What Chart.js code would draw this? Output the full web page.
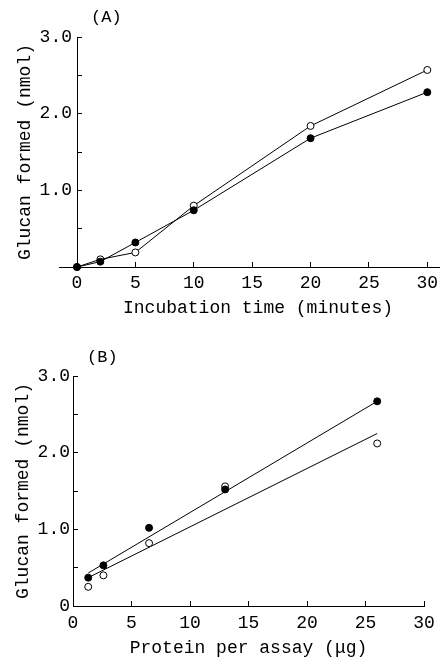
<!DOCTYPE html>
<html>
<head>
<meta charset="utf-8">
<script src="https://cdn.jsdelivr.net/npm/chart.js@4/dist/chart.umd.min.js"></script>
<style>
  html, body { margin: 0; padding: 0; background: #fff; }
  body { width: 444px; height: 657px; position: relative; overflow: hidden; }
  canvas { position: absolute; left: 0; display: block; }
  #cA { top: 0; }
  #cB { top: 330px; }
</style>
</head>
<body>
<canvas id="cA" width="444" height="330"></canvas>
<canvas id="cB" width="444" height="327"></canvas>
<script>
// ---------- Panel A data ----------
const timeMinutes = [0, 2, 5, 10, 20, 30];
const glucanOpenA = [0, 0.10, 0.19, 0.80, 1.84, 2.57];
const glucanFilledA = [0, 0.07, 0.32, 0.74, 1.68, 2.28];

// ---------- Panel B data ----------
const proteinUg = [1.3, 2.6, 6.5, 13, 26];
const glucanFilledB = [0.37, 0.53, 1.02, 1.52, 2.67];
const glucanOpenB = [0.25, 0.40, 0.82, 1.56, 2.12];
const fitX = [1.3, 26];
const fitFilledB = [0.43, 2.67];
const fitOpenB = [0.37, 2.25];

// ---------- Tick labels ----------
const xTickValues = [0, 5, 10, 15, 20, 25, 30];
const yTickValues = [0, 0.5, 1, 1.5, 2, 2.5, 3];
const yTickLabelsA = ['', '', '1.0', '', '2.0', '', '3.0'];
const yTickLabelsB = ['0', '', '1.0', '', '2.0', '', '3.0'];

const FONT = '"Liberation Mono", "DejaVu Sans Mono", monospace';
Chart.defaults.font.family = FONT;
Chart.defaults.color = '#000';

function pts(xs, ys) { return xs.map((x, i) => ({ x: x, y: ys[i] })); }

const panelDecor = {
  id: 'panelDecor',
  afterDraw(chart, args, opts) {
    const ctx = chart.ctx;
    ctx.save();
    ctx.fillStyle = '#000';
    ctx.font = '17px ' + FONT;
    ctx.textAlign = 'left';
    ctx.textBaseline = 'middle';
    ctx.fillText(opts.text, opts.x, opts.y);
    if (opts.extendLeft) {
      const y0 = Math.round(chart.scales.y.getPixelForValue(0) - 0.5) + 0.5;
      const l = chart.chartArea.left;
      ctx.strokeStyle = '#000';
      ctx.lineWidth = 1;
      ctx.beginPath();
      ctx.moveTo(l - opts.extendLeft, y0);
      ctx.lineTo(l, y0);
      ctx.stroke();
    }
    ctx.restore();
  }
};

function zeroPad(s) { s.paddingLeft = 0; s.paddingRight = 0; s.paddingTop = 0; s.paddingBottom = 0; }

function makeOptions(cfg) {
  return {
    responsive: false,
    animation: false,
    devicePixelRatio: 1,
    layout: { padding: { left: 0, right: cfg.padRight, top: cfg.padTop, bottom: 0 } },
    plugins: {
      legend: { display: false },
      tooltip: { enabled: false },
      panelDecor: { text: cfg.label, x: cfg.labelX, y: cfg.labelY, extendLeft: cfg.extendLeft }
    },
    scales: {
      x: {
        type: 'linear',
        position: 'bottom',
        min: 0,
        max: cfg.xMax,
        afterBuildTicks: s => { s.ticks = xTickValues.map(v => ({ value: v })); },
        afterFit: s => { s.height = cfg.xAxisHeight; zeroPad(s); },
        ticks: { font: { size: 18 }, padding: cfg.xTickPad, maxRotation: 0, autoSkip: false,
                 callback: v => String(v) },
        grid: { display: true, drawOnChartArea: false, drawTicks: true, tickLength: -5, color: '#000', lineWidth: 1 },
        border: { display: true, color: '#000', width: 1 },
        title: { display: true, text: cfg.xTitle, font: { size: 18, lineHeight: 1 },
                 padding: { top: 0, bottom: cfg.xTitlePadBottom } }
      },
      y: {
        type: 'linear',
        position: 'left',
        min: 0,
        max: 3,
        afterBuildTicks: s => { s.ticks = yTickValues.map(v => ({ value: v })); },
        afterFit: s => { s.width = cfg.yAxisWidth; zeroPad(s); },
        ticks: { font: { size: 18 }, padding: cfg.yTickPad, autoSkip: false,
                 callback: (v, i) => cfg.yLabels[i] },
        grid: { display: true, drawOnChartArea: false, drawTicks: true, tickLength: -5, color: '#000', lineWidth: 1 },
        border: { display: true, color: '#000', width: 1 },
        title: { display: true, text: 'Glucan formed (nmol)', font: { size: 18, lineHeight: 1.2 },
                 padding: { top: cfg.yTitlePadTop, bottom: 0 } }
      }
    }
  };
}

const pointOpen = { pointStyle: 'circle', pointRadius: 3.5, pointBorderWidth: 1,
                    pointBackgroundColor: '#fff', pointBorderColor: '#000', clip: false };
const pointFilled = { pointStyle: 'circle', pointRadius: 3.5, pointBorderWidth: 1,
                      pointBackgroundColor: '#000', pointBorderColor: '#000', clip: false };

new Chart(document.getElementById('cA'), {
  type: 'scatter',
  data: {
    datasets: [
      Object.assign({ label: 'filled', data: pts(timeMinutes, glucanFilledA), showLine: true,
        borderColor: '#000', borderWidth: 1, backgroundColor: '#000' }, pointFilled),
      Object.assign({ label: 'open', data: pts(timeMinutes, glucanOpenA), showLine: true,
        borderColor: '#000', borderWidth: 1, backgroundColor: '#fff' }, pointOpen)
    ]
  },
  options: makeOptions({
    padRight: 1, padTop: 37, xMax: 31, xAxisHeight: 63, yAxisWidth: 77,
    xTickPad: 10, yTickPad: 10, xTitlePadBottom: 13, yTitlePadTop: 14,
    xTitle: 'Incubation time (minutes)', yLabels: yTickLabelsA,
    label: '(A)', labelX: 91, labelY: 17, extendLeft: 18
  }),
  plugins: [panelDecor]
});

new Chart(document.getElementById('cB'), {
  type: 'scatter',
  data: {
    datasets: [
      Object.assign({ label: 'filled', data: pts(proteinUg, glucanFilledB), showLine: false,
        backgroundColor: '#000' }, pointFilled),
      Object.assign({ label: 'open', data: pts(proteinUg, glucanOpenB), showLine: false,
        backgroundColor: '#fff' }, pointOpen),
      { label: 'fit filled', data: pts(fitX, fitFilledB), showLine: true, pointRadius: 0,
        borderColor: '#000', borderWidth: 1 },
      { label: 'fit open', data: pts(fitX, fitOpenB), showLine: true, pointRadius: 0,
        borderColor: '#000', borderWidth: 1 }
    ]
  },
  options: makeOptions({
    padRight: 20, padTop: 46, xMax: 30, xAxisHeight: 51, yAxisWidth: 73,
    xTickPad: 11, yTickPad: 8, xTitlePadBottom: 0, yTitlePadTop: 12,
    xTitle: 'Protein per assay (μg)', yLabels: yTickLabelsB,
    label: '(B)', labelX: 87, labelY: 27, extendLeft: 0
  }),
  plugins: [panelDecor]
});
</script>
</body>
</html>
